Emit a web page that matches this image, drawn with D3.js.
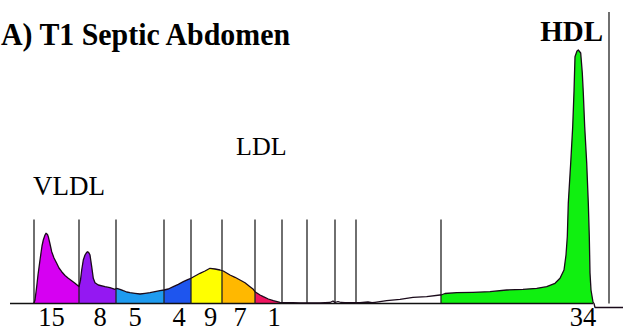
<!DOCTYPE html>
<html>
<head>
<meta charset="utf-8">
<script src="https://cdn.jsdelivr.net/npm/d3@7"></script>
<style>
  html, body { margin: 0; padding: 0; background: #fff; }
  svg { display: block; }
  text { font-family: "Liberation Serif", "Times New Roman", serif; fill: #000; }
</style>
</head>
<body>
<svg id="chart" width="623" height="331"></svg>
<script>
// Lipoprint densitometry scan: migration distance (arbitrary units) vs. optical density
const migration = [
  -1, 0, 1, 2.7, 4, 6, 8, 9.3, 11, 12, 13.5, 14.3, 16, 17.7, 20, 22.7, 25, 27.7, 31, 34.3, 38, 41, 44.3, 45,
  46.5, 47.7, 49.3, 51, 52.7, 53.7, 55, 56, 57.7, 59.3, 61, 64.3, 71, 76, 81,
  82.7, 86, 89.3, 92.7, 96, 101, 106, 111, 116, 121, 126, 130, 134.3, 139.3, 144.3, 149.3, 154.3, 157,
  161, 166, 171, 176, 181, 186, 189.3, 196, 201, 206, 211, 216, 219.3, 221, 226, 229.3, 234.3, 239.3,
  246, 259, 266, 286, 296, 299, 301, 304, 307, 311, 326, 334, 338, 341, 352.7, 366, 379, 392.7, 406,
  407, 411, 422.7, 439, 456, 472.7, 489, 502.7, 512.7, 521, 526, 530, 532, 533.3, 534.3, 536.7, 538.7,
  540, 541, 543, 544.3, 546.7, 548.3, 549.3, 550.7, 552.7, 554.3, 555.3, 556, 557, 559, 560, 561, 589
];
const density = [
  0, 0.5, 3.5, 16.8, 28.5, 43.5, 57.5, 63.5, 68.5, 70.2, 69, 66.8, 59.5, 51.8, 45.5, 40.2, 35.5, 31.8, 28, 25.2, 22.5, 20.2, 17.5, 17,
  23.5, 33.5, 43.5, 48.5, 51.2, 51.8, 50.5, 48.5, 36.8, 25.2, 20.8, 18.5, 16.8, 15.8, 14.2,
  15.2, 14.2, 12.8, 11.5, 10.8, 10.2, 9.5, 10.2, 10.8, 11.8, 12.8, 13.5, 14.5, 16.8, 19.2, 21.8, 24.2, 25.2,
  27.5, 30.2, 32.5, 35.2, 34.5, 33.5, 32.5, 28.5, 26.2, 23.5, 20.8, 16.8, 14.2, 11.8, 8.5, 6.8, 4.5, 2.8,
  1.2, 0.8, 0.7, 0.5, 1, 2.5, 1, 2, 1, 0.8, 0.8, 1.5, 0.8, 1.2, 2.8, 4.2, 6.2, 6.8, 8.5,
  8.5, 10, 10.8, 11.2, 11.8, 13.5, 14.2, 15.2, 16.8, 20.2, 25.2, 33.5, 48.5, 66.8, 100.5, 140.5, 176.8,
  211.8, 246.8, 252.5, 253.5, 250.5, 230.5, 210.5, 176.8, 140.5, 100.5, 66.8, 30.5, 13.5, 1.5, 0, -4, -4
];

// Lipoprotein subfractions: band limits, colours and share of total (%)
const bandNames  = ["VLDL", "MID-C", "MID-B", "MID-A", "LDL-1", "LDL-2", "LDL-3", "LDL-3b", "HDL"];
const bandStart  = [0, 45, 82, 130, 157, 188, 221, 246, 407];
const bandEnd    = [45, 82, 130, 157, 188, 221, 246, 259, 560];
const bandColors = ["#d600f2", "#9418f2", "#1e9bf0", "#1e55ee", "#ffff00", "#ffb800", "#f01460", "#b0141c", "#10f010"];

// Percent labels and their positions along the scan
const percentLabels = ["15", "8", "5", "4", "9", "7", "1", "34"];
const percentPos    = [17.5, 66, 101, 145, 176.7, 206, 240, 549];

// Fraction divider marks
const dividers = [0, 45, 82, 130, 157, 188, 221, 248, 273, 301, 322, 407];
const endMark = 575;

const svg = d3.select("#chart");
const x = d3.scaleLinear().domain([0, 575]).range([34, 609]);
const y = d3.scaleLinear().domain([0, 254]).range([303.5, 49.5]);

const profile = migration.map((m, i) => ({ m, d: density[i] }));

// points of the profile between a and b, interpolated at the limits
function slice(a, b) {
  const interp = v => {
    for (let i = 1; i < profile.length; i++) {
      const p0 = profile[i - 1], p1 = profile[i];
      if (v >= p0.m && v <= p1.m) {
        const t = (v - p0.m) / (p1.m - p0.m || 1);
        return { m: v, d: p0.d + t * (p1.d - p0.d) };
      }
    }
    return { m: v, d: 0 };
  };
  return [interp(a), ...profile.filter(p => p.m > a && p.m < b), interp(b)];
}

const area = d3.area().x(p => x(p.m)).y0(y(0)).y1(p => y(Math.max(p.d, 0)));
const line = d3.line().x(p => x(p.m)).y(p => y(p.d));

// coloured subfraction areas
svg.append("g").selectAll("path")
  .data(bandNames.map((n, i) => ({ n, a: bandStart[i], b: bandEnd[i], c: bandColors[i] })))
  .join("path")
  .attr("d", s => area(slice(s.a, s.b)))
  .attr("fill", s => s.c)
  .attr("stroke", "none");

// baseline
svg.append("line")
  .attr("x1", x(-24)).attr("x2", x(559))
  .attr("y1", y(0)).attr("y2", y(0))
  .attr("stroke", "#111").attr("stroke-width", 1.6);

// divider marks
svg.append("g").selectAll("line")
  .data(dividers)
  .join("line")
  .attr("x1", d => x(d)).attr("x2", d => x(d))
  .attr("y1", y(0)).attr("y2", y(84))
  .attr("stroke", "#222").attr("stroke-width", 1.3);

svg.append("line")
  .attr("x1", x(endMark)).attr("x2", x(endMark))
  .attr("y1", y(0)).attr("y2", y(291.5))
  .attr("stroke", "#222").attr("stroke-width", 1.3);

// scan trace
svg.append("path")
  .attr("d", line(profile))
  .attr("fill", "none")
  .attr("stroke", "#1a0a1a")
  .attr("stroke-width", 1.3)
  .attr("stroke-linejoin", "round");

// percentages under the bands
svg.append("g").selectAll("text")
  .data(percentLabels.map((t, i) => ({ t, p: percentPos[i] })))
  .join("text")
  .attr("x", d => x(d.p)).attr("y", 326)
  .attr("text-anchor", "middle")
  .style("font-size", "26.5px")
  .text(d => d.t);

// titles and class labels
svg.append("text")
  .attr("x", 1).attr("y", 45)
  .style("font-size", "32px").style("font-weight", "bold")
  .attr("textLength", 289).attr("lengthAdjust", "spacingAndGlyphs")
  .text("A) T1 Septic Abdomen");

svg.append("text")
  .attr("x", 603).attr("y", 41)
  .attr("text-anchor", "end")
  .style("font-size", "29px").style("font-weight", "bold")
  .text("HDL");

svg.append("text")
  .attr("x", 236).attr("y", 155)
  .style("font-size", "26px")
  .text("LDL");

svg.append("text")
  .attr("x", 33).attr("y", 195)
  .style("font-size", "27px")
  .text("VLDL");
</script>
</body>
</html>
